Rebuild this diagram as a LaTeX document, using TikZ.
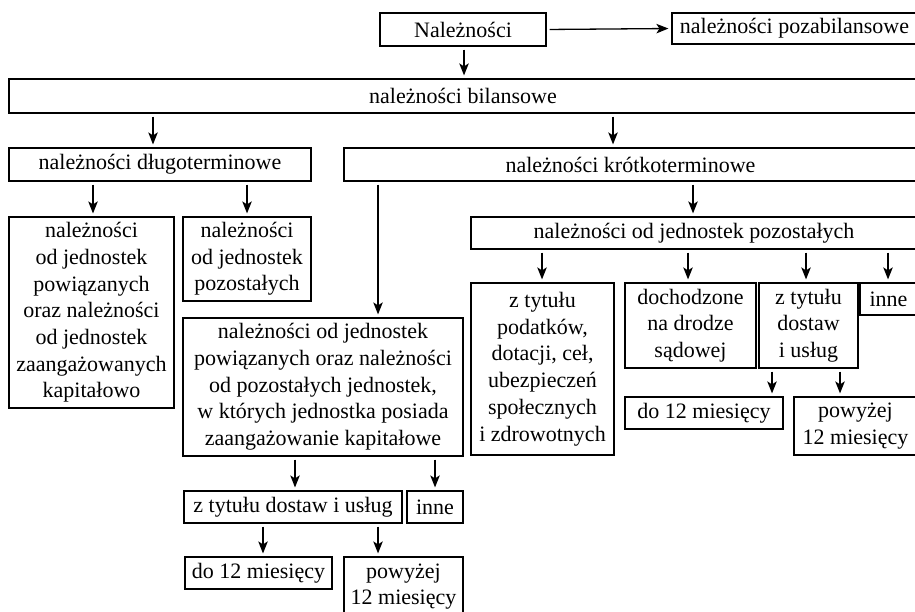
\documentclass[tikz,border=0pt]{standalone}
\usepackage{fontspec}
\setmainfont{Liberation Serif}
\usetikzlibrary{arrows.meta}

\tikzset{
    box/.style={draw, line width=1.2pt, inner sep=0pt, align=center,
        font=\fontsize{22}{26.7}\selectfont},
    arr/.style={-{Stealth[length=12pt, width=9.5pt, inset=3pt]}, line width=1.3pt,
        shorten <=3pt, shorten >=3pt}
}

\begin{document}
\begin{tikzpicture}[x=1pt, y=-1pt]

            % the frame
            \useasboundingbox (0, 0) rectangle (915, 612);
            \path[clip] (0, 0) rectangle (915, 612);

            % the top
            \node[box, minimum width=166, minimum height=33] (nal) at (463, 29.5) {Należności};
            \node[box, minimum width=245, minimum height=31] (poza) at (794.5, 28.5) {należności pozabilansowe};
            \node[box, minimum width=908, minimum height=34] (bil) at (463, 96) {należności bilansowe};

            % long term
            \node[box, minimum width=302, minimum height=33] (dlugo) at (160, 164.5) {należności długoterminowe};
            \node[box, minimum width=165, minimum height=191] (dpow) at (91.5, 312.5)
                {należności\\od jednostek\\powiązanych\\oraz należności\\od jednostek\\zaangażowanych\\kapitałowo};
            \node[box, minimum width=128, minimum height=84] (dpoz) at (247, 259)
                {należności\\od jednostek\\pozostałych};

            % short term
            \node[box, minimum width=573, minimum height=33] (krotko) at (630.5, 164.5) {należności krótkoterminowe};
            \node[box, minimum width=280, minimum height=138] (kpow) at (323, 387)
                {należności od jednostek\\powiązanych oraz należności\\od pozostałych jednostek,\\w których jednostka posiada\\zaangażowanie kapitałowe};
            \node[box, minimum width=446, minimum height=32] (kpoz) at (694, 233) {należności od jednostek pozostałych};

            % short term, others
            \node[box, minimum width=143, minimum height=172] (podatki) at (542.5, 369)
                {z tytułu\\podatków,\\dotacji, ceł,\\ubezpieczeń\\społecznych\\i zdrowotnych};
            \node[box, minimum width=131, minimum height=85] (sad) at (690.5, 325.5) {dochodzone\\na drodze\\sądowej};
            \node[box, minimum width=99, minimum height=85] (dostaw) at (808.5, 325.5) {z tytułu\\dostaw\\i usług};
            \node[box, minimum width=57, minimum height=32] (inne) at (888.5, 299) {inne};
            \node[box, minimum width=158, minimum height=32] (kdo) at (704, 413) {do 12 miesięcy};
            \node[box, minimum width=123, minimum height=58] (kponad) at (855.5, 426) {powyżej\\12 miesięcy};

            % short term, related
            \node[box, minimum width=218, minimum height=32] (mdostaw) at (293, 507) {z tytułu dostaw i usług};
            \node[box, minimum width=56, minimum height=32] (minne) at (435, 507) {inne};
            \node[box, minimum width=147, minimum height=32] (mdo) at (258.5, 573) {do 12 miesięcy};
            \node[box, minimum width=119, minimum height=59] (mponad) at (403.5, 586.5) {powyżej\\12 miesięcy};

            % arrows
            \draw[arr] (nal.east) -- (poza.west);
            \foreach \x/\a/\b in {464/nal/bil, 153/bil/dlugo, 613/bil/krotko,
                    93/dlugo/dpow, 247/dlugo/dpoz, 378/krotko/kpow, 693/krotko/kpoz,
                    542/kpoz/podatki, 688/kpoz/sad, 806/kpoz/dostaw, 888/kpoz/inne,
                    772/dostaw/kdo, 840/dostaw/kponad,
                    295/kpow/mdostaw, 435/kpow/minne,
                    263/mdostaw/mdo, 378/mdostaw/mponad} {
                \draw[arr] (\x, 0 |- \a.south) -- (\x, 0 |- \b.north);
            }

        \end{tikzpicture}
\end{document}
